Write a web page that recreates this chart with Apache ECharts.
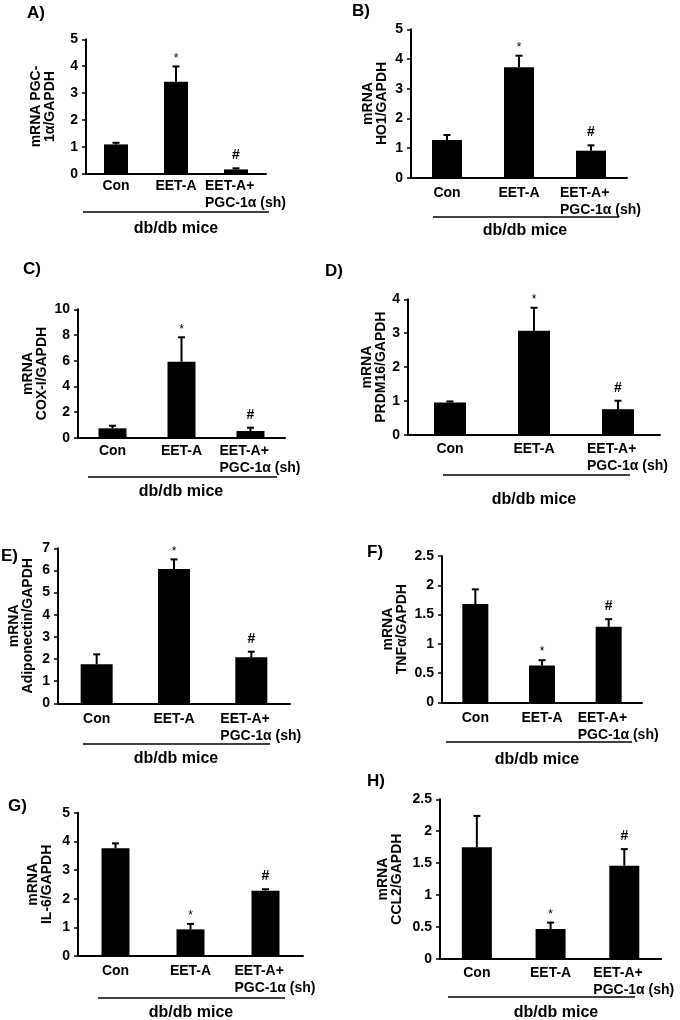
<!DOCTYPE html>
<html>
<head>
<meta charset="utf-8">
<script src="https://cdn.jsdelivr.net/npm/echarts@6/dist/echarts.min.js"></script>
<style>
html,body{margin:0;padding:0;background:#fff;}
#chart{width:680px;height:1020px;}
</style>
</head>
<body>
<div id="chart"></div>
<script>
// ---------- DATA ----------
const categories = ['Con', 'EET-A', 'EET-A+\nPGC-1α (sh)'];
const markers = ['', '*', '#'];
const groupLabel = 'db/db mice';
const panelLabels = ['A)', 'B)', 'C)', 'D)', 'E)', 'F)', 'G)', 'H)'];
const yTitles = [
  'mRNA PGC-\n1α/GAPDH',
  'mRNA\nHO1/GAPDH',
  'mRNA\nCOX-I/GAPDH',
  'mRNA\nPRDM16/GAPDH',
  'mRNA\nAdiponectin/GAPDH',
  'mRNA\nTNFα/GAPDH',
  'mRNA\nIL-6/GAPDH',
  'mRNA\nCCL2/GAPDH'
];
const yMax = [5, 5, 10, 4, 7, 2.5, 5, 2.5];
const yStep = [1, 1, 2, 1, 1, 0.5, 1, 0.5];

const meanA = [1.09, 3.42, 0.16];  const errA = [0.06, 0.57, 0.04];
const meanB = [1.27, 3.72, 0.91];  const errB = [0.17, 0.39, 0.18];
const meanC = [0.73, 5.92, 0.52];  const errC = [0.20, 1.90, 0.26];
const meanD = [0.96, 3.07, 0.76];  const errD = [0.03, 0.68, 0.25];
const meanE = [1.76, 6.07, 2.08];  const errE = [0.45, 0.43, 0.25];
const meanF = [1.68, 0.63, 1.29];  const errF = [0.25, 0.09, 0.13];
const meanG = [3.76, 0.93, 2.28];  const errG = [0.17, 0.19, 0.05];
const meanH = [1.75, 0.47, 1.46];  const errH = [0.49, 0.10, 0.26];

const means = [meanA, meanB, meanC, meanD, meanE, meanF, meanG, meanH];
const errs  = [errA, errB, errC, errD, errE, errF, errG, errH];

// ---------- LAYOUT ----------
const FONT = '"Liberation Sans", Arial, Helvetica, sans-serif';
const layout = [
  {l: 86,  t: 39.3,  w: 180, h: 134.4, bw: 24, gap: 29, lab: [27, 14],  line: [83, 269, 212],  grp: [176, 229], xm: 4},
  {l: 411, t: 29.3,  w: 216, h: 148.4, bw: 30, gap: 22, lab: [352, 12], line: [433, 619, 217], grp: [525, 231], xm: 7},
  {l: 78,  t: 309.3, w: 207, h: 128.4, bw: 28, gap: 29, lab: [23, 270], line: [88, 277, 477],  grp: [181, 492], xm: 5},
  {l: 408, t: 299.3, w: 252, h: 135.7, bw: 32, gap: 20, lab: [325, 272],line: [443, 630, 475], grp: [534, 500], xm: 6},
  {l: 58,  t: 548.3, w: 232, h: 155,   bw: 32, gap: 23, lab: [1, 557],  line: [83, 270, 744],  grp: [176, 759], xm: 7},
  {l: 442, t: 556,   w: 200, h: 146.3, bw: 26, gap: 33, lab: [367, 553],line: [446, 632, 742], grp: [537, 760], xm: 7},
  {l: 78,  t: 812.7, w: 225, h: 143.3, bw: 28, gap: 24, lab: [8, 807],  line: [98, 285, 998],  grp: [191, 1013], xm: 7},
  {l: 440, t: 799.3, w: 223, h: 159.7, bw: 30, gap: 36, lab: [367, 782],line: [448, 635, 997], grp: [556, 1013], xm: 6}
];

const grids = [], xAxes = [], yAxes = [], series = [], graphics = [];

layout.forEach((L, i) => {
  grids.push({left: L.l, top: L.t, width: L.w, height: L.h, containLabel: false});
  xAxes.push({
    type: 'category', gridIndex: i, data: categories,
    axisLine: {lineStyle: {color: '#000', width: 2}},
    axisTick: {show: false},
    axisLabel: {
      interval: 0, margin: L.xm, color: '#000',
      fontFamily: FONT, fontWeight: 'bold', fontSize: 14, lineHeight: 17,
      formatter: function (v) {
        if (v.indexOf('\n') >= 0) {
          return v.split('\n').map(s => '{l|' + s + '}').join('\n');
        }
        return v;
      },
      rich: {
        l: {width: 84, align: 'left', padding: [0, 0, 0, 22], fontFamily: FONT,
            fontWeight: 'bold', fontSize: 14, lineHeight: 17, color: '#000'}
      }
    }
  });
  yAxes.push({
    type: 'value', gridIndex: i, min: 0, max: yMax[i], interval: yStep[i],
    name: yTitles[i], nameLocation: 'middle', nameRotate: 90, nameGap: L.gap,
    nameTextStyle: {color: '#000', fontFamily: FONT, fontWeight: 'bold', fontSize: 14, lineHeight: 14},
    axisLine: {show: true, lineStyle: {color: '#000', width: 2}},
    axisTick: {show: true, length: 4, lineStyle: {color: '#000', width: 1.5}},
    axisLabel: {color: '#000', fontFamily: FONT, fontWeight: 'bold', fontSize: 14, margin: 8},
    splitLine: {show: false}
  });
  series.push({
    type: 'bar', xAxisIndex: i, yAxisIndex: i, data: means[i],
    barWidth: L.bw, itemStyle: {color: '#000'}, silent: true
  });
  const m = means[i], e = errs[i];
  series.push({
    type: 'custom', xAxisIndex: i, yAxisIndex: i, z: 5, silent: true,
    data: m.map((v, k) => [k, v, e[k]]),
    renderItem: function (params, api) {
      const k = api.value(0);
      const base = api.coord([k, api.value(1)]);
      const top = api.coord([k, api.value(1) + api.value(2)]);
      const x = base[0];
      const children = [
        {type: 'line', shape: {x1: x, y1: base[1], x2: x, y2: top[1]}, style: {stroke: '#000', lineWidth: 2}},
        {type: 'line', shape: {x1: x - 3.5, y1: top[1], x2: x + 3.5, y2: top[1]}, style: {stroke: '#000', lineWidth: 2}}
      ];
      const mk = markers[k];
      if (mk) {
        children.push({
          type: 'text',
          style: {
            text: mk, x: x, y: top[1] - (mk === '*' ? 2 : 6),
            align: 'center', verticalAlign: 'bottom',
            fill: '#000', fontFamily: FONT,
            fontWeight: mk === '*' ? 'normal' : 'bold',
            fontSize: mk === '*' ? 12 : 14
          }
        });
      }
      return {type: 'group', children: children};
    }
  });
  graphics.push({
    type: 'text', left: L.lab[0], top: L.lab[1] - 9,
    style: {text: panelLabels[i], fill: '#000', font: 'bold 17px ' + FONT}
  });
  graphics.push({
    type: 'line', shape: {x1: L.line[0], y1: L.line[2], x2: L.line[1], y2: L.line[2]},
    style: {stroke: '#000', lineWidth: 1.5}
  });
  graphics.push({
    type: 'text', x: L.grp[0], y: L.grp[1],
    style: {text: groupLabel, fill: '#000', font: 'bold 16px ' + FONT, align: 'center', verticalAlign: 'middle'}
  });
});

const chart = echarts.init(document.getElementById('chart'), null, {renderer: 'canvas'});
chart.setOption({
  animation: false,
  backgroundColor: '#fff',
  grid: grids, xAxis: xAxes, yAxis: yAxes, series: series,
  graphic: {elements: graphics}
});
</script>
</body>
</html>
